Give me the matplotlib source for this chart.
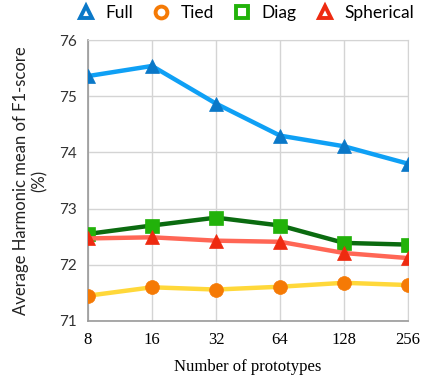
import matplotlib
matplotlib.use("Agg")
import matplotlib.pyplot as plt
from matplotlib.lines import Line2D

prototypes = [8, 16, 32, 64, 128, 256]
full = [75.36, 75.54, 74.87, 74.30, 74.11, 73.80]
tied = [71.45, 71.60, 71.56, 71.61, 71.68, 71.64]
diag = [72.55, 72.70, 72.84, 72.70, 72.39, 72.36]
spherical = [72.47, 72.49, 72.43, 72.41, 72.21, 72.12]

# (name, values, line colour, marker colour, marker)
series = [
    ("Full", full, "#0fa0f5", "#0a78c8", "^"),
    ("Tied", tied, "#ffd83a", "#f57a05", "o"),
    ("Diag", diag, "#0b6b10", "#22b20a", "s"),
    ("Spherical", spherical, "#ff6655", "#ee2a10", "^"),
]

plt.rcParams["font.family"] = ["Lato", "DejaVu Sans"]

fig = plt.figure(figsize=(4.22, 3.75), dpi=100)
ax = fig.add_axes([0.2085, 0.144, 0.7585, 0.749])

pos = list(range(len(prototypes)))
handles = []
for name, vals, lc, mc, mk in series:
    ax.plot(pos, vals, color=lc, lw=3.2, zorder=3,
            marker=mk, markersize=10, markerfacecolor=mc,
            markeredgecolor=mc, markeredgewidth=0.5)
    handles.append(Line2D([], [], ls="none", marker=mk, markersize=8.5,
                          markerfacecolor="white", markeredgecolor=mc,
                          markeredgewidth=2.8, label=name))

ax.set_xlim(0, len(prototypes) - 1)
ax.set_ylim(71, 76)
ax.set_xticks(pos)
ax.set_xticklabels([str(p) for p in prototypes],
                   family="Liberation Serif", fontsize=12)
ax.set_yticks([71, 72, 73, 74, 75, 76])
ax.tick_params(axis="y", labelsize=11, length=0, pad=8, colors="#333333")
ax.tick_params(axis="x", length=0, pad=8)
ax.grid(True, color="#d4d4d4", lw=1.0, zorder=0)
for side in ["top", "right"]:
    ax.spines[side].set_color("#d4d4d4")
for side in ["left", "bottom"]:
    ax.spines[side].set_color("#999999")
    ax.spines[side].set_linewidth(1.2)

ax.set_xlabel("Number of prototypes", family="Liberation Serif",
              fontsize=12, labelpad=8)
ax.set_ylabel("Average Harmonic mean of F1-score\n(%)", fontsize=12,
              labelpad=8, color="#222222")

fig.legend(handles=handles, loc="upper center", ncol=4,
           bbox_to_anchor=(0.58, 1.015), frameon=False, fontsize=12.5,
           handletextpad=0.5, columnspacing=1.05, handlelength=1.2,
           borderaxespad=0.2)

fig.savefig("out.png", dpi=100)
